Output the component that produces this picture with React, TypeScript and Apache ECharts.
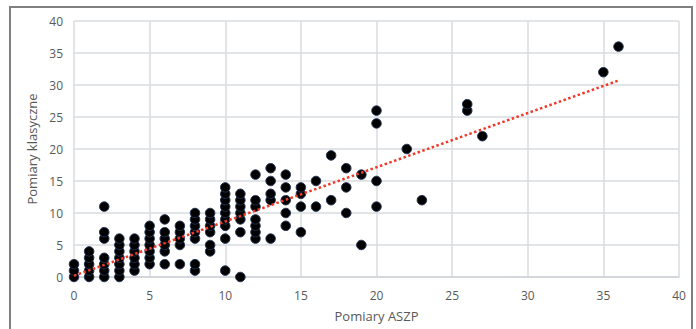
import React, { useEffect, useRef } from "react";
import * as echarts from "echarts";

const aszp = [
  0, 0, 0,
  1, 1, 1, 1, 1,
  2, 2, 2, 2, 2, 2, 2,
  3, 3, 3, 3, 3, 3, 3,
  4, 4, 4, 4, 4, 4,
  5, 5, 5, 5, 5, 5, 5,
  6, 6, 6, 6, 6, 6,
  7, 7, 7, 7, 7,
  8, 8, 8, 8, 8, 8, 8,
  9, 9, 9, 9, 9, 9,
  10, 10, 10, 10, 10, 10, 10, 10, 10,
  11, 11, 11, 11, 11, 11, 11,
  12, 12, 12, 12, 12, 12, 12,
  13, 13, 13, 13, 13,
  14, 14, 14, 14, 14,
  15, 15, 15, 15,
  16, 16,
  17, 17,
  18, 18, 18,
  19, 19,
  20, 20, 20, 20,
  22,
  23,
  26, 26,
  27,
  35,
  36,
];
const klasyczne = [
  0, 1, 2,
  0, 1, 2, 3, 4,
  0, 1, 2, 3, 6, 7, 11,
  0, 1, 2, 3, 4, 5, 6,
  1, 2, 3, 4, 5, 6,
  2, 3, 4, 5, 6, 7, 8,
  2, 4, 5, 6, 7, 9,
  2, 5, 6, 7, 8,
  1, 2, 6, 7, 8, 9, 10,
  4, 5, 7, 8, 9, 10,
  1, 6, 8, 9, 10, 11, 12, 13, 14,
  0, 7, 9, 10, 11, 12, 13,
  6, 7, 8, 9, 11, 12, 16,
  6, 12, 13, 15, 17,
  8, 10, 12, 14, 16,
  7, 11, 13, 14,
  11, 15,
  12, 19,
  10, 14, 17,
  5, 16,
  11, 15, 24, 26,
  20,
  12,
  26, 27,
  22,
  32,
  36,
];

// Trend line end points (x, y)
const trendX = [0, 36];
const trendY = [0.2, 30.7];

const xTicks = { min: 0, max: 40, interval: 5 };
const yTicks = { min: 0, max: 40, interval: 5 };

const FONT = "'Open Sans', 'Noto Sans', sans-serif";

export default function App() {
  const ref = useRef<HTMLDivElement>(null);

  useEffect(() => {
    if (!ref.current) return;
    const chart = echarts.init(ref.current, undefined, { renderer: "svg" });
    const points = aszp.map((x, i) => [x, klasyczne[i]]);
    const trend = trendX.map((x, i) => [x, trendY[i]]);
    chart.setOption({
      animation: false,
      backgroundColor: "#ffffff",
      grid: { left: 74, right: 17, top: 21, bottom: 52 },
      graphic: [
        {
          type: "rect",
          shape: { x: 10, y: 7, width: 682, height: 340 },
          style: { fill: "none", stroke: "#7f7f7f", lineWidth: 2 },
          silent: true,
        },
      ],
      xAxis: {
        type: "value",
        ...xTicks,
        name: "Pomiary ASZP",
        nameLocation: "middle",
        nameGap: 32,
        nameTextStyle: { color: "#595959", fontSize: 13, fontFamily: FONT },
        axisLine: { show: true, lineStyle: { color: "#d0d4d8", width: 1.5 } },
        axisTick: { show: false },
        axisLabel: { color: "#595959", fontSize: 12, fontFamily: FONT, margin: 12 },
        splitLine: { show: true, lineStyle: { color: "#d9dde1", width: 1.5 } },
      },
      yAxis: {
        type: "value",
        ...yTicks,
        name: "Pomiary klasyczne",
        nameLocation: "middle",
        nameRotate: 90,
        nameGap: 36,
        nameTextStyle: { color: "#595959", fontSize: 13, fontFamily: FONT },
        axisLine: { show: false },
        axisTick: { show: false },
        axisLabel: { color: "#595959", fontSize: 12, fontFamily: FONT, margin: 11 },
        splitLine: { show: true, lineStyle: { color: "#d9dde1", width: 1.5 } },
      },
      series: [
        {
          type: "scatter",
          data: points,
          symbol: "circle",
          symbolSize: 9.5,
          itemStyle: { color: "#000000", borderColor: "#1f3050", borderWidth: 1, opacity: 1 },
          z: 3,
        },
        {
          type: "line",
          data: trend,
          showSymbol: false,
          symbol: "none",
          lineStyle: { color: "#f03a2a", width: 2.5, type: [2.5, 2.5] },
          z: 4,
        },
      ],
    });
    return () => chart.dispose();
  }, []);

  return (
    <div
      ref={ref}
      style={{ position: "fixed", left: 0, top: 0, width: 696, height: 329, background: "#fff" }}
    />
  );
}
